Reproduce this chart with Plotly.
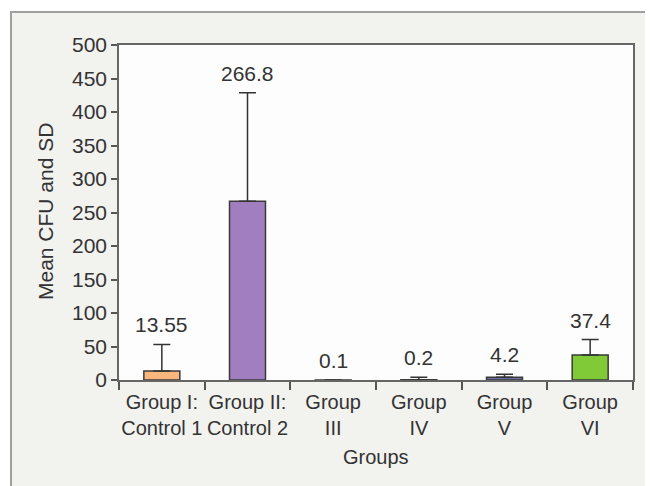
import plotly.graph_objects as go

categories = ["Group I:<br>Control 1", "Group II:<br>Control 2", "Group<br>III",
              "Group<br>IV", "Group<br>V", "Group<br>VI"]
means = [13.55, 266.8, 0.1, 0.2, 4.2, 37.4]
sds = [39.5, 162.0, 0.0, 4.0, 4.5, 23.0]
labels = ["13.55", "266.8", "0.1", "0.2", "4.2", "37.4"]
colors = ["#F9B77D", "#A07EC0", "#9aa0c8", "#25253a", "#6E6FA3", "#80C937"]
y_ticks = list(range(0, 501, 50))

FONT = "Liberation Sans, Arial, sans-serif"
TXT = "#333333"
FS = 21

# page body has an 8px default margin; compensate
OFF = 8
W, H = 653 - OFF, 486 - OFF
L = 119 - OFF
T = 45 - OFF
R = W - (633 - OFF)
B = H - (380 - OFF)
pw = W - L - R
ph = H - T - B

def px(x):
    return (x - OFF - L) / pw

def py(y):
    return (H - B - (y - OFF)) / ph

fig = go.Figure()
fig.add_trace(go.Bar(
    x=categories, y=means,
    marker=dict(color=colors, line=dict(color="#3a3a3a", width=1.5)),
    error_y=dict(type="data", symmetric=False, array=sds, arrayminus=[0]*len(sds),
                 color="#333333", thickness=1.5, width=8.5),
    showlegend=False, hoverinfo="skip",
))

for c, m, s, t in zip(categories, means, sds, labels):
    fig.add_annotation(x=c, y=m + s, text=t, showarrow=False, yanchor="bottom",
                       yshift=6, font=dict(family=FONT, size=FS, color=TXT))

# axis titles
fig.add_annotation(xref="paper", yref="paper", x=px(376), y=py(457), text="Groups",
                   showarrow=False, xanchor="center", yanchor="middle",
                   font=dict(family=FONT, size=FS - 1, color=TXT))
fig.add_annotation(xref="paper", yref="paper", x=px(45), y=py(212), text="Mean CFU and SD",
                   showarrow=False, textangle=-90, xanchor="center", yanchor="middle",
                   font=dict(family=FONT, size=FS, color=TXT))

# outer panel frame
fig.add_shape(type="rect", xref="paper", yref="paper",
              x0=px(11), x1=px(720), y0=py(12), y1=py(540),
              fillcolor="#F2F2EF", line=dict(color="#A0A0A0", width=2), layer="below")
# plot area background
fig.add_shape(type="rect", xref="paper", yref="paper",
              x0=0, x1=1, y0=0, y1=1, fillcolor="#FDFDFD",
              line=dict(width=0), layer="below")

fig.update_layout(
    width=W, height=H,
    margin=dict(l=L, r=R, t=T, b=B),
    paper_bgcolor="white", plot_bgcolor="rgba(0,0,0,0)",
    bargap=0.58,
    font=dict(family=FONT, size=FS, color=TXT),
    xaxis=dict(
        type="category", tickson="boundaries", ticks="outside", ticklen=8,
        tickcolor="#555555", tickwidth=1.5, tickangle=0, ticklabelstandoff=3,
        showline=True, linecolor="#666666", linewidth=1.5, mirror=True,
        showgrid=False, tickfont=dict(family=FONT, size=20, color=TXT),
    ),
    yaxis=dict(
        range=[0, 500], tickvals=y_ticks, ticks="outside", ticklen=6,
        tickcolor="#555555", tickwidth=1.5,
        showline=True, linecolor="#666666", linewidth=1.5, mirror=True,
        showgrid=False, zeroline=False,
        tickfont=dict(family=FONT, size=FS, color=TXT),
    ),
)

fig.write_html("out.html")
